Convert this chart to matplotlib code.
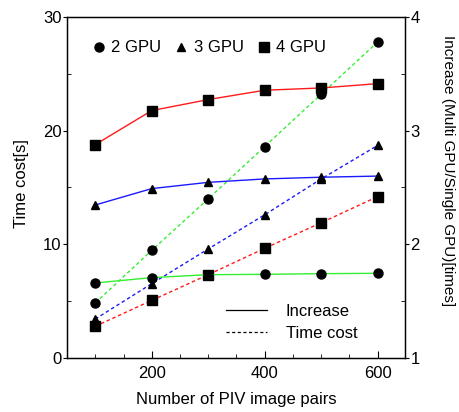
import matplotlib
matplotlib.use("Agg")
import matplotlib.pyplot as plt
from matplotlib.lines import Line2D
from matplotlib.ticker import MultipleLocator, FixedLocator

plt.rcParams['font.family'] = ['Liberation Sans', 'DejaVu Sans']

pairs = [100, 200, 300, 400, 500, 600]
series = ["2 GPU", "3 GPU", "4 GPU"]
time_cost = {
    "2 GPU": [4.84, 9.47, 14.0, 18.6, 23.2, 27.8],
    "3 GPU": [3.43, 6.54, 9.59, 12.6, 15.75, 18.7],
    "4 GPU": [2.79, 5.07, 7.33, 9.65, 11.9, 14.2],
}
increase = {
    "2 GPU": [1.66, 1.707, 1.733, 1.736, 1.742, 1.745],
    "3 GPU": [2.346, 2.49, 2.545, 2.575, 2.59, 2.60],
    "4 GPU": [2.877, 3.176, 3.273, 3.355, 3.375, 3.413],
}
colors = {"2 GPU": "#33ee33", "3 GPU": "#1a1aff", "4 GPU": "#ff1a1a"}
markers = {"2 GPU": "o", "3 GPU": "^", "4 GPU": "s"}
msizes = {"2 GPU": 6.5, "3 GPU": 6.0, "4 GPU": 7.0}

fig = plt.figure(figsize=(4.59, 4.12), dpi=100)
ax = fig.add_axes([0.146, 0.131, 0.736, 0.828])
ax2 = ax.twinx()

dash = (0, (2.5, 2))
for s in series:
    ax.plot(pairs, time_cost[s], linestyle=dash, color=colors[s], lw=1.0, zorder=2)
    ax.plot(pairs, time_cost[s], linestyle='none', marker=markers[s], ms=msizes[s],
            color='black', zorder=3)
    ax2.plot(pairs, increase[s], linestyle='-', color=colors[s], lw=1.0, zorder=2)
    ax2.plot(pairs, increase[s], linestyle='none', marker=markers[s], ms=msizes[s],
             color='black', zorder=3)

ax.set_xlim(50, 648)
ax.set_ylim(0, 30)
ax2.set_ylim(1, 4)

ax.xaxis.set_major_locator(FixedLocator([200, 400, 600]))
ax.xaxis.set_minor_locator(MultipleLocator(50))
ax.yaxis.set_major_locator(MultipleLocator(10))
ax.yaxis.set_minor_locator(MultipleLocator(5))
ax2.yaxis.set_major_locator(MultipleLocator(1))
ax2.yaxis.set_minor_locator(MultipleLocator(0.5))

fs = 12
ax.tick_params(axis='x', which='major', direction='in', length=5, labelsize=fs, top=False, pad=6)
ax.tick_params(axis='x', which='minor', direction='in', length=3, top=False)
ax.tick_params(axis='y', which='major', direction='out', length=3, labelsize=fs, pad=1)
ax.tick_params(axis='y', which='minor', direction='in', length=3)
ax2.tick_params(axis='y', which='major', direction='out', length=3, labelsize=fs, pad=1)
ax2.tick_params(axis='y', which='minor', direction='in', length=3)

for a in (ax, ax2):
    for sp in a.spines.values():
        sp.set_linewidth(0.9)

ax.set_xlabel("Number of PIV image pairs", fontsize=fs, labelpad=8)
ax.set_ylabel("Time cost[s]", fontsize=fs, va='center')
ax.yaxis.set_label_coords(-0.135, 0.51)
ax2.set_ylabel("Increase (Multi GPU/Single GPU)[times]", fontsize=11, rotation=270,
               va='center')
ax2.yaxis.set_label_coords(1.127, 0.55)

h1 = [Line2D([], [], linestyle='none', marker=markers[s], ms=msizes[s], color='black')
      for s in series]
leg1 = ax2.legend(h1, series, loc='upper left', bbox_to_anchor=(0.02, 0.975), ncol=3,
                  frameon=False, fontsize=fs, handletextpad=0.15, columnspacing=0.6,
                  handlelength=1.2)
ax2.add_artist(leg1)
h2 = [Line2D([], [], linestyle='-', color='black', lw=0.9),
      Line2D([], [], linestyle=(0, (2.5, 2)), color='black', lw=0.9)]
ax2.legend(h2, ["Increase", "Time cost"], loc='lower left', bbox_to_anchor=(0.425, 0.005),
           frameon=False, fontsize=fs, handlelength=2.5, handletextpad=1.1, labelspacing=0.45)

fig.savefig("out.png", dpi=100)
